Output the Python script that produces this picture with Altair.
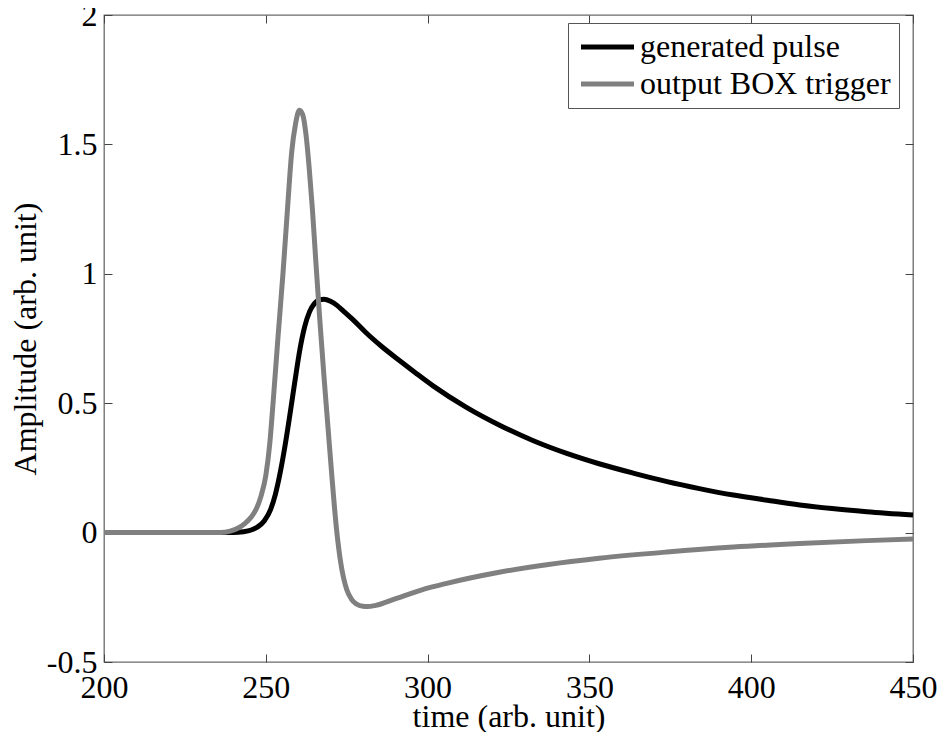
import altair as alt
import pandas as pd

series = ["generated pulse", "output BOX trigger"]
colors = ["#000000", "#808080"]
x_ticks = [200, 250, 300, 350, 400, 450]
y_ticks = [-0.5, 0, 0.5, 1, 1.5, 2]

pulse_t = [200, 230, 240, 243, 245.5, 247.5, 249.5, 251.5, 253, 254.5, 256, 257.5, 259, 260.5,
           262, 263.5, 265, 266.5, 268, 270, 272, 274, 277, 281, 286, 291.5, 296.5, 301.8,
           312, 322.4, 332.7, 343, 353, 363.5, 374, 384, 394.5, 405, 415, 425, 435.7, 450]
pulse_a = [0, 0, 0, 0.003, 0.01, 0.022, 0.045, 0.09, 0.15, 0.235, 0.34, 0.46, 0.585, 0.705,
           0.795, 0.853, 0.885, 0.899, 0.902, 0.894, 0.878, 0.856, 0.822, 0.772, 0.717, 0.663, 0.615, 0.566,
           0.484, 0.414, 0.355, 0.306, 0.266, 0.23, 0.197, 0.17, 0.145, 0.125, 0.107, 0.093, 0.081, 0.068]

trig_t = [200, 236, 239, 241.5, 243.5, 245.5, 247, 248.5, 250, 251.2, 252.3, 253.8, 255.3,
          256.7, 258, 259.2, 260.4, 261.4, 262.4, 263.4, 264.4, 265.5, 266.7, 268, 269.2,
          270.5, 271.8, 273.2, 275, 276.5, 278, 280, 281.5, 284, 290.4, 298, 305.9, 321.3, 336.8,
          353, 374, 394.5, 415, 435.7, 450]
trig_a = [0, 0, 0.006, 0.018, 0.035, 0.06, 0.09, 0.14, 0.22, 0.34, 0.51, 0.76, 1.0,
          1.25, 1.47, 1.58, 1.632, 1.615, 1.54, 1.41, 1.25, 1.04, 0.82, 0.60, 0.41,
          0.205, 0.02, -0.12, -0.22, -0.258, -0.276, -0.285, -0.286, -0.281, -0.254, -0.222, -0.196, -0.155, -0.124,
          -0.099, -0.075, -0.056, -0.042, -0.031, -0.025]

df = pd.concat([
    pd.DataFrame({"t": pulse_t, "a": pulse_a, "s": series[0]}),
    pd.DataFrame({"t": trig_t, "a": trig_a, "s": series[1]}),
], ignore_index=True)

FONT = "Liberation Serif, 'Times New Roman', Times, 'DejaVu Serif', serif"
TICK = "#444444"
xs = alt.Scale(domain=[200, 450], nice=False, zero=False)
ys = alt.Scale(domain=[-0.5, 2], nice=False, zero=False)

common = dict(offset=-8, tickSize=8, tickColor=TICK, tickWidth=1, domain=False, grid=False,
              labelFont=FONT, labelFontSize=32, labelColor="black", labelFlush=False,
              labelOverlap=False, labelBound=False,
              titleFont=FONT, titleFontSize=32, titleColor="black", titleFontWeight="normal")

base = alt.Chart(df)

lines = base.mark_line(strokeWidth=5, interpolate="monotone").encode(
    x=alt.X("t:Q", scale=xs, axis=alt.Axis(orient="bottom", values=x_ticks, labelPadding=10,
            title="time (arb. unit)", titleX=404.5, titleY=72, titleBaseline="alphabetic",
            titleAlign="center", **common)),
    y=alt.Y("a:Q", scale=ys, axis=alt.Axis(orient="left", values=y_ticks, labelPadding=7,
            labelExpr="datum.value < 0 ? '-' + format(-datum.value, '~g') : format(datum.value, '~g')",
            title="Amplitude (arb. unit)", titleX=-77, titleY=323.5, titleAngle=270,
            titleBaseline="alphabetic", titleAlign="center", **common)),
    color=alt.Color("s:N", scale=alt.Scale(domain=series, range=colors),
                    legend=alt.Legend(title=None, orient="none", legendX=464, legendY=8,
                                      direction="vertical", symbolType="M-1.1,0H4.2",
                                      symbolSize=400, symbolStrokeWidth=5,
                                      labelFont=FONT, labelFontSize=32, labelColor="black",
                                      labelOffset=32, labelLimit=500, rowPadding=5, padding=8,
                                      fillColor="white", strokeColor="#555555")),
)

tick_common = dict(offset=-8, tickSize=8, tickColor=TICK, tickWidth=1, domain=False,
                   grid=False, labels=False, title=None)
mirror = base.mark_line(strokeOpacity=0).encode(
    x=alt.X("t:Q", scale=xs, axis=alt.Axis(orient="top", values=x_ticks, **tick_common)),
    y=alt.Y("a:Q", scale=ys, axis=alt.Axis(orient="right", values=y_ticks, **tick_common)),
)

chart = alt.layer(lines, mirror).resolve_axis(x="independent", y="independent").properties(
    width=809, height=647,
    autosize=alt.AutoSizeParams(type="none"),
    padding={"left": 96, "top": 7, "right": 27, "bottom": 70},
    background="white",
).configure_view(stroke="#6b6b6b", strokeWidth=1.3)

chart.save("out.html", embed_options={"renderer": "svg", "actions": False})
